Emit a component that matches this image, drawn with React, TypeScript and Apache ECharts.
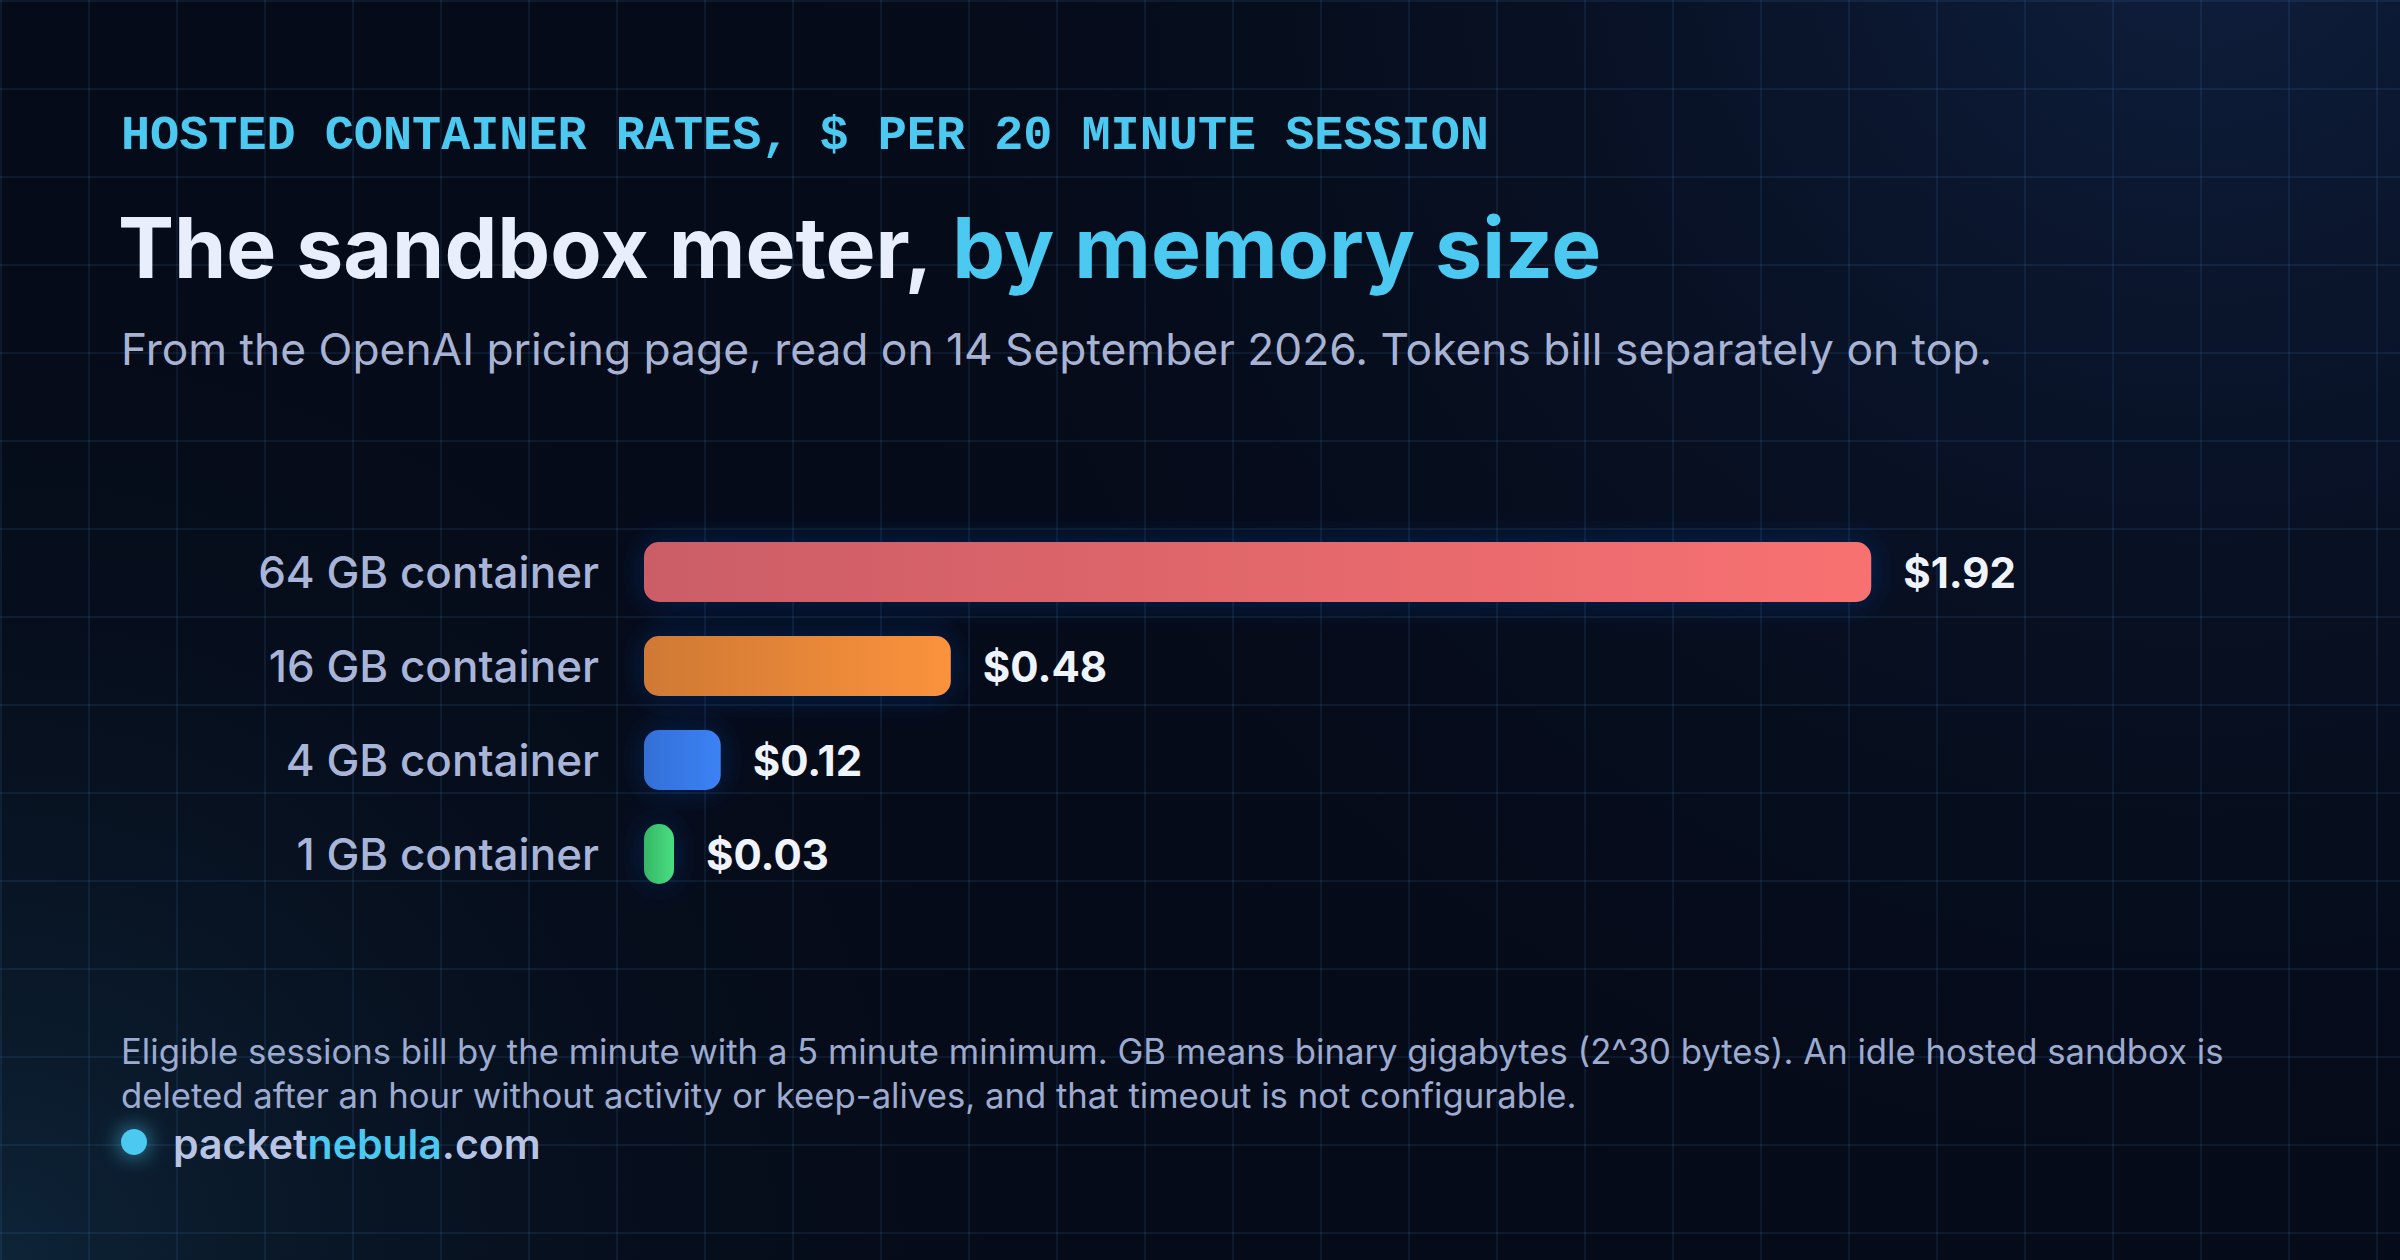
import React, { useEffect, useRef } from "react";
import * as echarts from "echarts";

const categories = ["64 GB container", "16 GB container", "4 GB container", "1 GB container"];
const prices = [1.92, 0.48, 0.12, 0.03];
const barStartColors = ["#cb5d66", "#cf7934", "#336fd6", "#35b766"];
const barEndColors = ["#f87171", "#fb923c", "#3b82f6", "#4ade80"];

const kicker = "HOSTED CONTAINER RATES, $ PER 20 MINUTE SESSION";
const titleMain = "The sandbox meter, ";
const titleAccent = "by memory size";
const subtitle = "From the OpenAI pricing page, read on 14 September 2026. Tokens bill separately on top.";
const noteLines = [
  "Eligible sessions bill by the minute with a 5 minute minimum. GB means binary gigabytes (2^30 bytes). An idle hosted sandbox is",
  "deleted after an hour without activity or keep-alives, and that timeout is not configurable.",
];
const domainParts = ["packet", "nebula", ".com"];

const W = 2400;
const H = 1260;
const FONT = "Inter, 'Noto Sans', sans-serif";
const ACCENT = "#4cc9f0";

export default function App() {
  const ref = useRef<HTMLDivElement>(null);

  useEffect(() => {
    if (!ref.current) return;
    const chart = echarts.init(ref.current, null, { renderer: "svg" });

    const gridLines: any[] = [];
    for (let x = 1; x < W; x += 88) {
      gridLines.push({
        type: "line",
        silent: true,
        z: -9,
        shape: { x1: x, y1: 0, x2: x, y2: H },
        style: { stroke: "rgba(70,130,190,0.13)", lineWidth: 2 },
      });
    }
    for (let y = 1; y < H; y += 88) {
      gridLines.push({
        type: "line",
        silent: true,
        z: -9,
        shape: { x1: 0, y1: y, x2: W, y2: y },
        style: { stroke: "rgba(70,130,190,0.13)", lineWidth: 2 },
      });
    }

    const option: any = {
      animation: false,
      backgroundColor: "#050b19",
      grid: { left: 644, right: 222, top: 525, bottom: 359, containLabel: false },
      xAxis: { type: "value", min: 0, max: 2.4, show: false },
      yAxis: {
        type: "category",
        data: categories,
        inverse: true,
        axisLine: { show: false },
        axisTick: { show: false },
        splitLine: { show: false },
        axisLabel: {
          margin: 45,
          fontSize: 44,
          fontWeight: 500,
          fontFamily: FONT,
          color: "#a9b5d8",
        },
      },
      series: [
        {
          type: "bar",
          barWidth: 60,
          barMinHeight: 30,
          data: prices.map((v, i) => ({
            value: v,
            itemStyle: {
              color: new echarts.graphic.LinearGradient(0, 0, 1, 0, [
                { offset: 0, color: barStartColors[i] },
                { offset: 1, color: barEndColors[i] },
              ]),
            },
          })),
          itemStyle: {
            borderRadius: 15,
            shadowBlur: 30,
            shadowColor: "rgba(30,80,200,0.35)",
          },
          label: {
            show: true,
            position: "right",
            distance: 32,
            formatter: (p: any) => "$" + Number(p.value).toFixed(2),
            fontSize: 42,
            fontWeight: 700,
            fontFamily: FONT,
            color: "#eef3fc",
          },
        },
      ],
      graphic: [
        {
          type: "rect",
          silent: true,
          z: -10,
          shape: { x: 0, y: 0, width: W, height: H },
          style: {
            fill: {
              type: "radial",
              x: 2200,
              y: -100,
              r: 1400,
              global: true,
              colorStops: [
                { offset: 0, color: "rgba(28,56,110,0.45)" },
                { offset: 1, color: "rgba(5,11,25,0)" },
              ],
            },
          },
        },
        {
          type: "rect",
          silent: true,
          z: -10,
          shape: { x: 0, y: 0, width: W, height: H },
          style: {
            fill: {
              type: "radial",
              x: 0,
              y: 1260,
              r: 1000,
              global: true,
              colorStops: [
                { offset: 0, color: "rgba(24,66,92,0.45)" },
                { offset: 1, color: "rgba(5,11,25,0)" },
              ],
            },
          },
        },
        ...gridLines,
        {
          type: "text",
          silent: true,
          style: {
            x: 121,
            y: 136,
            text: kicker,
            fill: ACCENT,
            fontSize: 48.5,
            fontWeight: 700,
            fontFamily: "'Liberation Mono', 'DejaVu Sans Mono', monospace",
            verticalAlign: "middle",
          },
        },
        {
          type: "text",
          silent: true,
          style: {
            x: 118,
            y: 247,
            text: "{a|" + titleMain + "}{b|" + titleAccent + "}",
            verticalAlign: "middle",
            rich: {
              a: { fontSize: 84, fontWeight: 700, fontFamily: FONT, fill: "#e8eefb", color: "#e8eefb" },
              b: { fontSize: 84, fontWeight: 700, fontFamily: FONT, fill: ACCENT, color: ACCENT },
            },
          },
        },
        {
          type: "text",
          silent: true,
          style: {
            x: 121,
            y: 349,
            text: subtitle,
            fill: "#a8b3d4",
            fontSize: 44.3,
            fontWeight: 400,
            fontFamily: FONT,
            verticalAlign: "middle",
          },
        },
        ...noteLines.map((t, i) => ({
          type: "text",
          silent: true,
          style: {
            x: 121,
            y: 1051 + i * 44,
            text: t,
            fill: "#9dabd0",
            fontSize: 34.7,
            fontWeight: 400,
            fontFamily: FONT,
            verticalAlign: "middle",
          },
        })),
        {
          type: "circle",
          silent: true,
          shape: { cx: 134, cy: 1142, r: 13 },
          style: { fill: ACCENT, shadowBlur: 22, shadowColor: "rgba(76,201,240,0.8)" },
        },
        {
          type: "text",
          silent: true,
          style: {
            x: 173,
            y: 1144,
            text: "{a|" + domainParts[0] + "}{b|" + domainParts[1] + "}{a|" + domainParts[2] + "}",
            verticalAlign: "middle",
            rich: {
              a: { fontSize: 41, fontWeight: 600, fontFamily: FONT, fill: "#b8c4e4", color: "#b8c4e4" },
              b: { fontSize: 41, fontWeight: 600, fontFamily: FONT, fill: ACCENT, color: ACCENT },
            },
          },
        },
      ],
    };

    chart.setOption(option);
    return () => chart.dispose();
  }, []);

  return (
    <div
      ref={ref}
      style={{ position: "fixed", left: 0, top: 0, width: W, height: H }}
    />
  );
}
